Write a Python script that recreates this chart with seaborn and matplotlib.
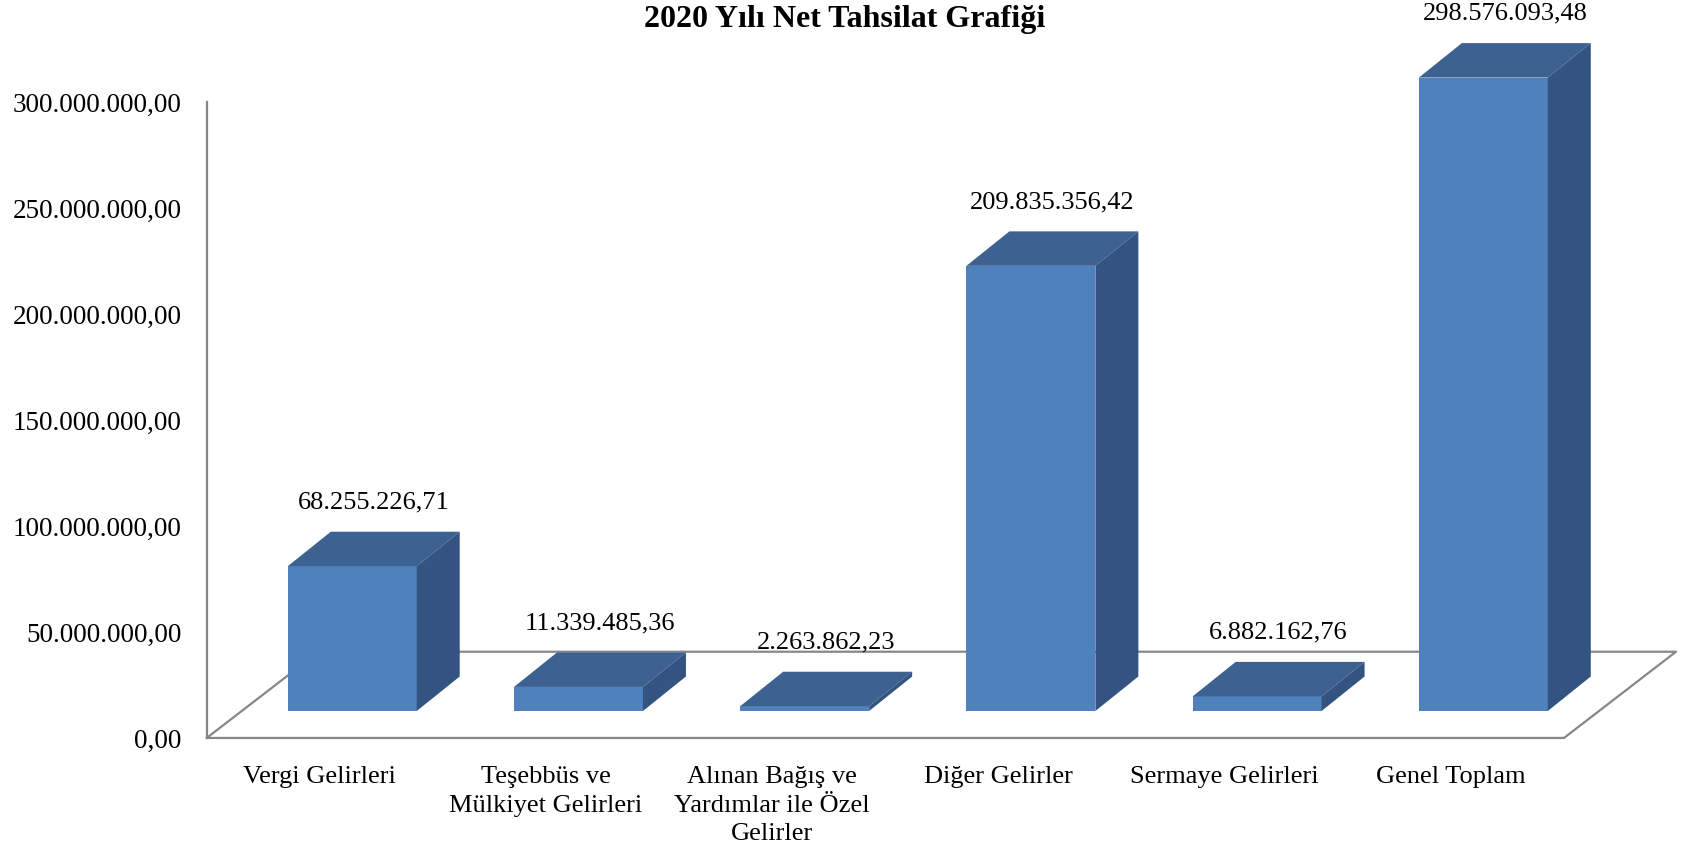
import numpy as np
import pandas as pd
import matplotlib
matplotlib.use('Agg')
import matplotlib.pyplot as plt
from matplotlib.patches import Polygon
import seaborn as sns

# data
categories = ['Vergi Gelirleri', 'Teşebbüs ve\nMülkiyet Gelirleri',
              'Alınan Bağış ve\nYardımlar ile Özel\nGelirler', 'Diğer Gelirler',
              'Sermaye Gelirleri', 'Genel Toplam']
values = [68255226.71, 11339485.36, 2263862.23, 209835356.42, 6882162.76, 298576093.48]
ytick_values = [0, 50e6, 100e6, 150e6, 200e6, 250e6, 300e6]
title = '2020 Yılı Net Tahsilat Grafiği'

front_col = '#4F81BD'
top_col = '#3D6190'
side_col = '#335480'
line_col = '#878787'


def tr_fmt(v):
    # turkish number format 1.234.567,89
    s = f'{v:,.2f}'
    return s.replace(',', 'X').replace('.', ',').replace('X', '.')


sns.set_theme(style='white')
plt.rcParams['font.family'] = ['Liberation Serif', 'DejaVu Serif']
plt.rcParams['text.color'] = 'black'
plt.rcParams['xtick.color'] = 'black'
plt.rcParams['ytick.color'] = 'black'

df = pd.DataFrame({'kategori': categories, 'tutar': values})

fig = plt.figure(figsize=(16.89, 8.56), dpi=100)

# back axes: value axis, floor and category labels
ax = fig.add_axes([0.1224, 0.1379, 0.8036, 0.7426])
ax.set_xlim(-0.5, 5.5)
ax.set_ylim(0, 300e6)
ax.patch.set_visible(False)
for s in ['top', 'right', 'bottom']:
    ax.spines[s].set_visible(False)
ax.spines['left'].set_color(line_col)
ax.spines['left'].set_linewidth(1.6)
ax.set_yticks(ytick_values)
ax.set_yticklabels([tr_fmt(v) for v in ytick_values], fontsize=19.5)
ax.set_xticks(range(len(categories)))
ax.set_xticklabels(categories, fontsize=19, linespacing=1.4, va='top')
ax.tick_params(axis='y', length=0, pad=18)
ax.tick_params(axis='x', length=0, pad=20)

# floor (3d look)
fdx, fdy = 0.495, 40.7e6
floor_x = [-0.5, 5.5, 5.5 + fdx, -0.5 + fdx, -0.5]
floor_y = [0, 0, fdy, fdy, 0]
ax.plot(floor_x, floor_y, color=line_col, lw=1.6, clip_on=False, zorder=1)

# front axes: bars
bx = fig.add_axes([0.1416, 0.1694, 0.8036, 0.7435])
sns.barplot(data=df, x='kategori', y='tutar', ax=bx, color=front_col,
            width=0.57, saturation=1, linewidth=0)
bx.set_xlim(-0.5, 5.5)
bx.set_ylim(0, 300e6)
bx.axis('off')

dx, dy = 0.19, 16.25e6
for p, v in zip(bx.patches, values):
    x0 = p.get_x()
    x1 = x0 + p.get_width()
    h = p.get_height()
    p.set_clip_on(False)
    top = Polygon([(x0, h), (x1, h), (x1 + dx, h + dy), (x0 + dx, h + dy)],
                  closed=True, facecolor=top_col, edgecolor='none', clip_on=False, zorder=3)
    side = Polygon([(x1, 0), (x1 + dx, dy), (x1 + dx, h + dy), (x1, h)],
                   closed=True, facecolor=side_col, edgecolor='none', clip_on=False, zorder=3)
    bx.add_patch(top)
    bx.add_patch(side)
    bx.annotate(tr_fmt(v), xy=(x0 + p.get_width() / 2 + dx / 2, h + dy),
                xytext=(0, 21), textcoords='offset points', ha='center', va='center',
                fontsize=19, annotation_clip=False)

fig.text(0.5, 0.977, title, ha='center', va='center', fontsize=23, fontweight='bold')

plt.savefig('out.png', dpi=100)
